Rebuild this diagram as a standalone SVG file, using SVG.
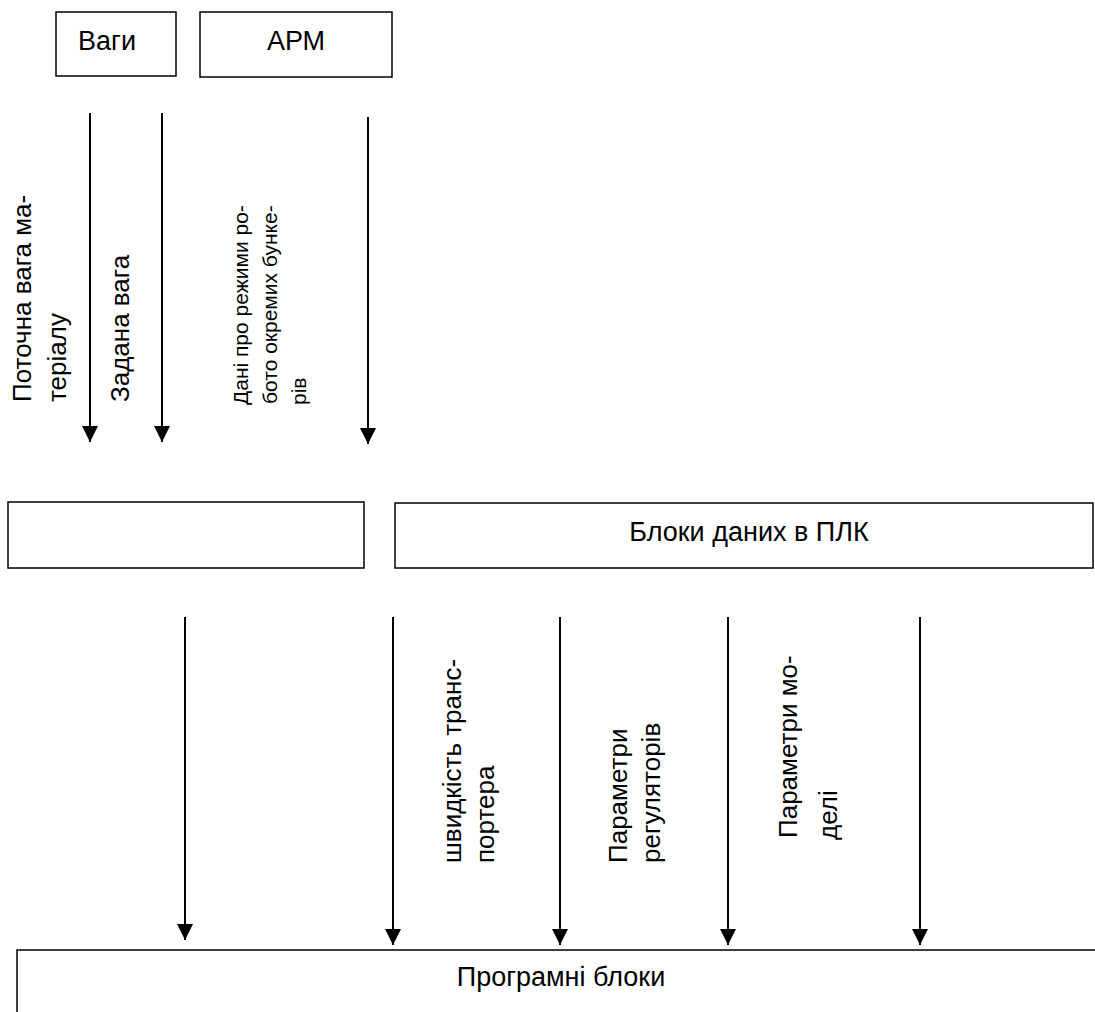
<svg xmlns="http://www.w3.org/2000/svg" width="1095" height="1012" viewBox="0 0 1095 1012">
<style>
.box{fill:#fff;stroke:#000;stroke-width:1.5}
.t{font-family:"Liberation Sans",Arial,sans-serif;fill:#000}
.big{font-size:27px}
.lbl{font-size:26px}
.sm{font-size:21px}
.arr{stroke:#000;stroke-width:2;fill:none;marker-end:url(#ah)}
</style>
<defs>
<marker id="ah" viewBox="0 0 16 16" markerWidth="16" markerHeight="16" refX="16" refY="8" orient="auto" markerUnits="userSpaceOnUse">
<path d="M0,0 L16,8 L0,16 z" fill="#000"/>
</marker>
</defs>
<rect width="1095" height="1012" fill="#fff"/>
<g id="vagy">
<rect class="box" x="56" y="12" width="120" height="64"/>
<text class="t big" x="107" y="50" text-anchor="middle">Ваги</text>
</g>
<g id="arm">
<rect class="box" x="200" y="12" width="192" height="65"/>
<text class="t big" x="296" y="50" text-anchor="middle">АРМ</text>
</g>
<g id="blank">
<rect class="box" x="8" y="502" width="356" height="66"/>
</g>
<g id="plc">
<rect class="box" x="395" y="503" width="698" height="65"/>
<text class="t big" x="749" y="541" text-anchor="middle">Блоки даних в ПЛК</text>
</g>
<g id="prog">
<rect class="box" x="17" y="950" width="1090" height="80"/>
<text class="t big" x="561" y="986" text-anchor="middle">Програмні блоки</text>
</g>
<g id="connectors">
<line class="arr" x1="90" y1="113" x2="90" y2="442"/>
<line class="arr" x1="162" y1="113" x2="162" y2="442"/>
<line class="arr" x1="368" y1="117" x2="368" y2="444"/>
<line class="arr" x1="185" y1="617" x2="185" y2="940"/>
<line class="arr" x1="393" y1="617" x2="393" y2="945"/>
<line class="arr" x1="560" y1="617" x2="560" y2="945"/>
<line class="arr" x1="728" y1="617" x2="728" y2="945"/>
<line class="arr" x1="920" y1="617" x2="920" y2="945"/>
</g>
<g id="labels">
<text class="t lbl" transform="translate(31,402) rotate(-90)">Поточна вага ма-</text>
<text class="t lbl" transform="translate(66,402) rotate(-90)">теріалу</text>
<text class="t lbl" transform="translate(129,402) rotate(-90)">Задана вага</text>
<text class="t sm" transform="translate(248,405) rotate(-90)">Дані про режими ро-</text>
<text class="t sm" transform="translate(277,404) rotate(-90)">бото окремих бунке-</text>
<text class="t sm" transform="translate(306,405) rotate(-90)">рів</text>
<text class="t lbl" transform="translate(461,863) rotate(-90)">швидкість транс-</text>
<text class="t lbl" transform="translate(494,863) rotate(-90)">портера</text>
<text class="t lbl" transform="translate(627,863) rotate(-90)">Параметри</text>
<text class="t lbl" transform="translate(660,863) rotate(-90)">регуляторів</text>
<text class="t lbl" transform="translate(797,838) rotate(-90)">Параметри мо-</text>
<text class="t lbl" transform="translate(837,840) rotate(-90)">делі</text>
</g>
</svg>
